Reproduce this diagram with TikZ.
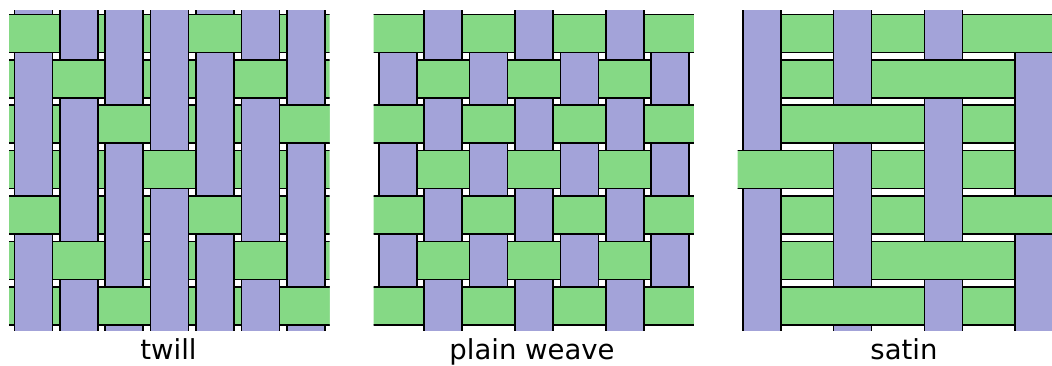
\documentclass[tikz,border=0pt]{standalone}
\usepackage{fontspec}
\setmainfont{DejaVu Sans}
\definecolor{weftgreen}{RGB}{133,217,133}
\definecolor{warppurple}{RGB}{163,163,217}
\newcommand\pit{45.4}
\newcommand\thk{38}
\newcommand\ytop{10.7}
\newcommand\weftrun[3]{\draw[weft] ({(#2-0.5)*\pit+\thk/2},{\ytop+(#1+0.5)*\pit-\thk/2}) rectangle ({(#3+1.5)*\pit-\thk/2},{\ytop+(#1+0.5)*\pit+\thk/2});}
\newcommand\warprun[3]{\draw[warp] ({(#1+0.5)*\pit-\thk/2},{\ytop+(#2-0.5)*\pit+\thk/2}) rectangle ({(#1+0.5)*\pit+\thk/2},{\ytop+(#3+1.5)*\pit-\thk/2});}
\newcommand\panelclip{\clip (-1.5,{\ytop}) rectangle ({7*\pit+1},{\ytop+7*\pit+2});}
\begin{document}
\begin{tikzpicture}[x=1pt,y=-1pt,
  weft/.style={fill=weftgreen,draw=black,line width=1.6pt},
  warp/.style={fill=warppurple,draw=black,line width=1.6pt},
  lbl/.style={font=\fontsize{27.5}{33}\selectfont,anchor=base,inner sep=0pt}]
\useasboundingbox (0,0) rectangle (1052,365);
% twill
\begin{scope}[shift={(10.7,0)}]
\panelclip
\foreach \rowi in {0,...,6} {\weftrun{\rowi}{-1}{7}}
\foreach \coli in {0,...,6} {\warprun{\coli}{-1}{7}}
\foreach \rowi/\coli in {0/0,0/4,1/1,1/5,2/2,2/6,3/3,4/0,4/4,5/1,5/5,6/2,6/6} {\weftrun{\rowi}{\coli}{\coli}}
\end{scope}
% plain weave
\begin{scope}[shift={(375,0)}]
\panelclip
\foreach \rowi in {0,...,6} {\foreach \coli in {0,...,6} {%
  \pgfmathparse{int(mod(\rowi+\coli,2))}%
  \ifnum\pgfmathresult=0 \weftrun{\rowi}{\coli}{\coli}\else\warprun{\coli}{\rowi}{\rowi}\fi}}
\end{scope}
% satin
\begin{scope}[shift={(739,0)}]
\panelclip
\warprun{0}{0}{2}\warprun{0}{4}{6}
\warprun{2}{0}{1}\warprun{2}{3}{5}\warprun{2}{7}{7}
\warprun{4}{0}{0}\warprun{4}{2}{4}\warprun{4}{6}{6}
\warprun{6}{1}{3}\warprun{6}{5}{6}
\weftrun{0}{1}{1}\weftrun{0}{3}{3}\weftrun{0}{5}{6}
\weftrun{1}{1}{1}\weftrun{1}{3}{5}
\weftrun{2}{1}{3}\weftrun{2}{5}{5}
\weftrun{3}{0}{1}\weftrun{3}{3}{3}\weftrun{3}{5}{5}
\weftrun{4}{1}{1}\weftrun{4}{3}{3}\weftrun{4}{5}{6}
\weftrun{5}{1}{1}\weftrun{5}{3}{5}
\weftrun{6}{1}{3}\weftrun{6}{5}{5}
\end{scope}
\node[lbl] (twill) at (168.5,359) {twill};
\node[lbl] (plain) at (532,359) {plain weave};
\node[lbl] (satin) at (904,359) {satin};
\end{tikzpicture}
\end{document}
